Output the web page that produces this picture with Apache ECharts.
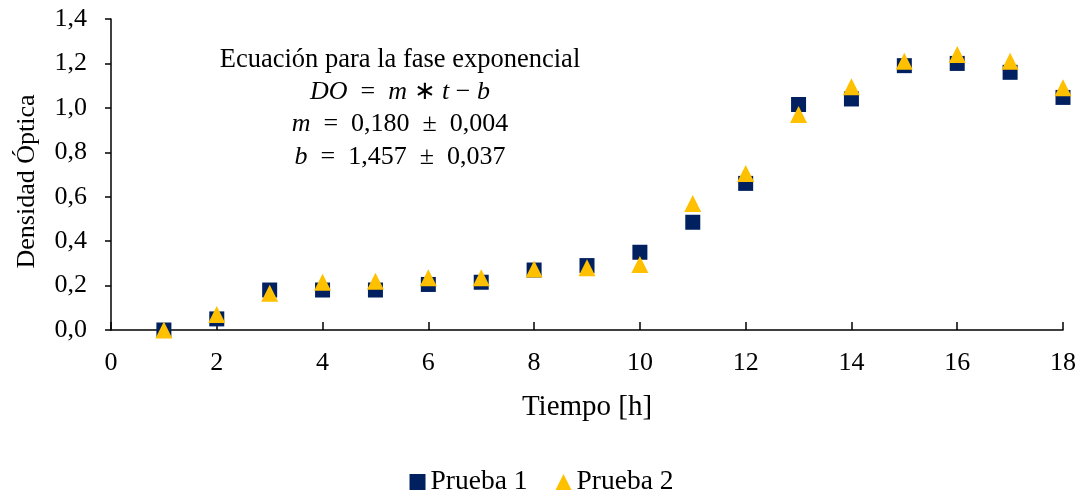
<!DOCTYPE html>
<html>
<head>
<meta charset="utf-8">
<script src="https://cdn.jsdelivr.net/npm/echarts@6/dist/echarts.min.js"></script>
<style>html,body{margin:0;padding:0;background:#fff}#c{width:1083px;height:495px}</style>
</head>
<body>
<div id="c"></div>
<script>
var tiempo = [1,2,3,4,5,6,7,8,9,10,11,12,13,14,15,16,17,18];
var prueba1 = [0.00,0.05,0.18,0.18,0.18,0.205,0.215,0.27,0.29,0.35,0.485,0.66,1.015,1.04,1.19,1.20,1.16,1.047];
var prueba2 = [0.00,0.07,0.165,0.215,0.22,0.235,0.235,0.275,0.28,0.295,0.57,0.705,0.97,1.095,1.21,1.24,1.21,1.09];
var seriesNames = ['Prueba 1','Prueba 2'];
var eqLines = [
  'Ecuación para la fase exponencial',
  '{i|DO}\u2002=\u2002{i|m} ∗ {i|t} − {i|b}',
  '{i|m}\u2002=\u20020,180\u2002±\u20020,004',
  '{i|b}\u2002=\u20021,457\u2002±\u20020,037'
];

var serif = '"Liberation Serif","Times New Roman",serif';
function pairs(xs, ys){ return xs.map(function(x,i){return [x, ys[i]];}); }
function fmt(v){ return v.toFixed(1).replace('.', ','); }

var eqY = [60, 92, 124, 157];
var graphics = eqLines.map(function(t, k){
  return {
    type:'text', x:400, y:eqY[k], z:10,
    style:{
      text:t, align:'center', verticalAlign:'middle',
      font:(k === 0 ? '26.5px ' : '26px ') + serif,
      fill:'#000',
      rich:{i:{fontStyle:'italic',fontFamily:serif,fontSize:26,fill:'#000'}}
    }
  };
});

var chart = echarts.init(document.getElementById('c'));
chart.setOption({
  backgroundColor:'#fff',
  animation:false,
  grid:{left:111,right:20,top:19,bottom:165},
  xAxis:{
    type:'value',min:0,max:18,interval:2,
    name:'Tiempo [h]',nameLocation:'middle',nameGap:63,
    nameTextStyle:{fontFamily:serif,fontSize:29,color:'#000'},
    axisLine:{show:true,lineStyle:{color:'#000',width:1.5}},
    axisTick:{show:true,inside:true,length:8,lineStyle:{color:'#000',width:1.5}},
    axisLabel:{fontFamily:serif,fontSize:26,color:'#000',margin:20},
    splitLine:{show:false}
  },
  yAxis:{
    type:'value',min:0,max:1.4,interval:0.2,
    name:'Densidad Óptica',nameLocation:'middle',nameGap:71,
    nameTextStyle:{fontFamily:serif,fontSize:26,color:'#000',padding:[0,14,0,0]},
    axisLine:{show:true,lineStyle:{color:'#000',width:1.5}},
    axisTick:{show:true,inside:false,length:6,lineStyle:{color:'#000',width:1.5}},
    axisLabel:{fontFamily:serif,fontSize:26,color:'#000',margin:24,formatter:fmt},
    splitLine:{show:false}
  },
  legend:{
    top:463,left:'center',itemGap:28,itemWidth:16,itemHeight:16,
    textStyle:{fontFamily:serif,fontSize:27.5,color:'#000'},
    data:[{name:seriesNames[0],icon:'rect'},{name:seriesNames[1],icon:'triangle'}]
  },
  graphic:graphics,
  series:[
    {name:seriesNames[0],type:'scatter',symbol:'rect',symbolSize:15,
     itemStyle:{color:'#002060',opacity:1},data:pairs(tiempo,prueba1)},
    {name:seriesNames[1],type:'scatter',symbol:'triangle',symbolSize:17,
     itemStyle:{color:'#FFC000',opacity:1},data:pairs(tiempo,prueba2)}
  ]
});
</script>
</body>
</html>
